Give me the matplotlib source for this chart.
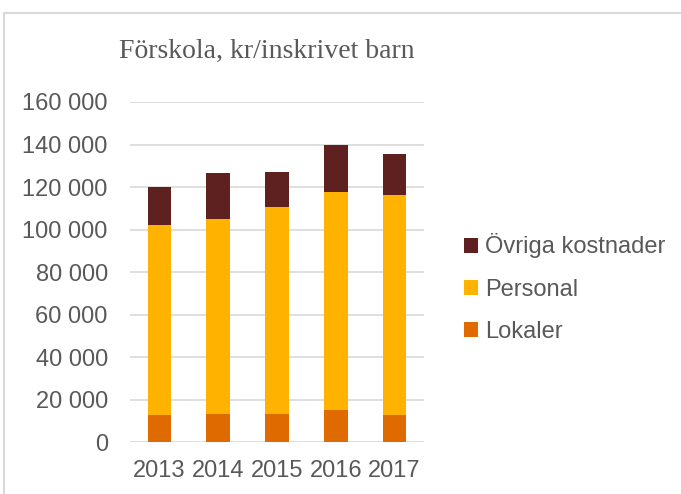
import numpy as np
import matplotlib
matplotlib.use("Agg")
import matplotlib.pyplot as plt
from matplotlib.lines import Line2D
from matplotlib.ticker import FuncFormatter

years = ["2013", "2014", "2015", "2016", "2017"]
lokaler = [12700, 13100, 13400, 15300, 13000]
personal = [89500, 91700, 97400, 102500, 103100]
ovriga = [17800, 21600, 16400, 21800, 19400]

c_lok = "#DE6A00"
c_pers = "#FFB300"
c_ovr = "#5E2120"
txt = "#595959"

W, H = 681, 494
fig = plt.figure(figsize=(W / 100, H / 100), dpi=100)
ax = fig.add_axes([130 / W, 1 - 442.3 / H, 294 / W, (442.3 - 102) / H])

x = np.arange(len(years))
bw = 0.4
b1 = ax.bar(x, lokaler, bw, color=c_lok, label="Lokaler", zorder=3)
b2 = ax.bar(x, personal, bw, bottom=lokaler, color=c_pers, label="Personal", zorder=3)
bot = np.array(lokaler) + np.array(personal)
b3 = ax.bar(x, ovriga, bw, bottom=bot, color=c_ovr, label="Övriga kostnader", zorder=3)

ax.set_xlim(-0.5, 4.5)
ax.set_ylim(0, 160000)
ax.set_yticks(np.arange(0, 160001, 20000))
ax.yaxis.set_major_formatter(FuncFormatter(lambda v, p: f"{int(v):,}".replace(",", " ")))
ax.set_xticks(x)
ax.set_xticklabels(years)
ax.grid(axis="y", color="#D9D9D9", linewidth=1.2, zorder=0)
for s in ax.spines.values():
    s.set_visible(False)
ax.tick_params(length=0, labelsize=17, labelcolor=txt)
for lab in ax.get_xticklabels() + ax.get_yticklabels():
    lab.set_fontfamily("Liberation Sans")
ax.tick_params(axis="y", pad=16)
ax.tick_params(axis="x", pad=13)

fig.text(0.5 * (120 + 413) / W, 1 - 51 / H, "Förskola, kr/inskrivet barn",
         ha="center", va="center", fontsize=20, color=txt, family="Liberation Serif")

leg = fig.legend(handles=[b3, b2, b1], labels=["Övriga kostnader", "Personal", "Lokaler"],
                 loc="center left", bbox_to_anchor=(443 / W, 1 - 288 / H), frameon=False,
                 prop={"family": "Liberation Sans", "size": 17}, handlelength=0.6,
                 handleheight=0.6, handletextpad=0.3, labelspacing=0.85)
for t in leg.get_texts():
    t.set_color(txt)

fig.add_artist(Line2D([4 / W, 1], [1 - 13 / H, 1 - 13 / H], color="#D9D9D9", lw=1.5))
fig.add_artist(Line2D([4 / W, 4 / W], [0, 1 - 13 / H], color="#D9D9D9", lw=1.5))

fig.savefig("out.png", dpi=100)
